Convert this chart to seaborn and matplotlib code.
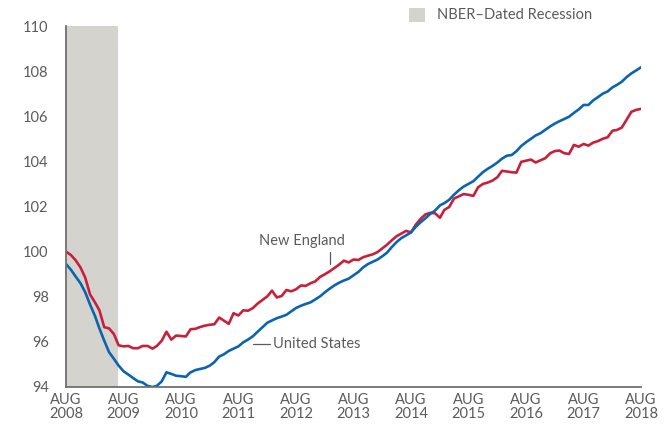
import pandas as pd
import matplotlib.pyplot as plt
import seaborn as sns
from matplotlib.patches import Patch

# Payroll employment index, monthly Aug 2008 - Aug 2018
months = pd.date_range("2008-08-01", "2018-08-01", freq="MS")

new_england = [
    100.0, 99.85, 99.62, 99.3, 98.85, 98.1, 97.75, 97.4, 96.65, 96.6, 96.35, 95.85,
    95.8, 95.82, 95.72, 95.72, 95.82, 95.82, 95.7, 95.82, 96.05, 96.45, 96.1, 96.28,
    96.26, 96.24, 96.56, 96.58, 96.66, 96.72, 96.76, 96.78, 97.08, 96.94, 96.8, 97.27,
    97.17, 97.4, 97.38, 97.5, 97.7, 97.86, 98.02, 98.27, 97.97, 98.03, 98.3, 98.24,
    98.33, 98.5, 98.48, 98.6, 98.68, 98.88, 99.0, 99.12, 99.27, 99.42, 99.6, 99.52,
    99.65, 99.63, 99.75, 99.82, 99.88, 99.98, 100.15, 100.3, 100.5, 100.68, 100.8, 100.92,
    100.85, 101.2, 101.45, 101.65, 101.72, 101.7, 101.5, 101.85, 101.98, 102.35, 102.45, 102.55,
    102.52, 102.47, 102.85, 103.0, 103.06, 103.15, 103.3, 103.58, 103.55, 103.52, 103.5, 103.98,
    104.03, 104.08, 103.95, 104.05, 104.14, 104.36, 104.46, 104.48, 104.36, 104.33, 104.73, 104.65,
    104.77, 104.7, 104.83, 104.9, 105.0, 105.07, 105.36, 105.39, 105.5, 105.84, 106.2, 106.28,
    106.33,
]

united_states = [
    99.45, 99.2, 98.9, 98.6, 98.2, 97.65, 97.15, 96.6, 96.05, 95.55, 95.25, 94.95,
    94.7, 94.55, 94.4, 94.25, 94.2, 94.05, 94.0, 94.05, 94.25, 94.65, 94.58, 94.5,
    94.48, 94.45, 94.65, 94.75, 94.8, 94.85, 94.95, 95.1, 95.35, 95.45, 95.6, 95.7,
    95.8, 95.98, 96.1, 96.25, 96.45, 96.65, 96.85, 96.95, 97.05, 97.12, 97.2, 97.35,
    97.5, 97.6, 97.68, 97.75, 97.88, 98.02, 98.2, 98.35, 98.5, 98.62, 98.72, 98.8,
    98.95, 99.1, 99.3, 99.45, 99.55, 99.65, 99.8, 99.95, 100.2, 100.42, 100.6, 100.72,
    100.85, 101.1, 101.3, 101.48, 101.67, 101.82, 102.05, 102.15, 102.3, 102.52, 102.72, 102.88,
    103.0, 103.12, 103.32, 103.52, 103.67, 103.8, 103.95, 104.12, 104.25, 104.28, 104.45, 104.68,
    104.85, 105.0, 105.15, 105.25, 105.4, 105.55, 105.68, 105.78, 105.88, 105.98, 106.15, 106.3,
    106.5, 106.5, 106.7, 106.85, 107.0, 107.1, 107.28, 107.39, 107.53, 107.73, 107.9, 108.03,
    108.17,
]

tick_years = list(range(2008, 2019))
tick_labels = [f"AUG\n{y}" for y in tick_years]

recession_start = pd.Timestamp("2008-08-01")
recession_end = pd.Timestamp("2009-06-30")

text_color = "#5b5b5b"
axis_color = "#707070"
shade = "#d5d3ce"
colors = {"New England": "#c8203a", "United States": "#0a64b0"}

df = pd.DataFrame({
    "month": list(months) * 2,
    "index": new_england + united_states,
    "region": ["New England"] * len(months) + ["United States"] * len(months),
})

sns.set_style("white")
plt.rcParams["font.family"] = ["Lato", "DejaVu Sans"]

fig = plt.figure(figsize=(6.72, 4.24), dpi=100)
ax = fig.add_axes([66 / 672, 1 - 387 / 424, (641 - 66) / 672, (387 - 26) / 424])

ax.axvspan(recession_start, recession_end, color=shade, lw=0, zorder=0)
sns.lineplot(data=df, x="month", y="index", hue="region", palette=colors,
             linewidth=1.9, legend=False, ax=ax)

ax.set_xlim(months[0], months[-1])
ax.set_ylim(94, 110)
ax.set_yticks(range(94, 111, 2))
ax.set_xticks([pd.Timestamp(f"{y}-08-01") for y in tick_years])
ax.set_xticklabels(tick_labels, linespacing=1.0)
ax.set_xlabel("")
ax.set_ylabel("")

for side in ["top", "right"]:
    ax.spines[side].set_visible(False)
for side in ["left", "bottom"]:
    ax.spines[side].set_color(axis_color)
    ax.spines[side].set_linewidth(1.3)

ax.tick_params(axis="x", direction="in", length=7.5, width=1.3, color=axis_color,
               labelcolor=text_color, labelsize=10.5, pad=4)
ax.tick_params(axis="y", direction="out", length=7.5, width=1.3, color=axis_color,
               labelcolor=text_color, labelsize=10.5, pad=5)

# line labels
ax.text(pd.Timestamp("2012-09-10"), 100.45, "New England", color=text_color,
        fontsize=10.5, ha="center", va="center")
ax.plot([pd.Timestamp("2013-03-05")] * 2, [99.45, 100.0], color=text_color, lw=0.9)
ax.plot([pd.Timestamp("2011-11-01"), pd.Timestamp("2012-02-15")], [95.9, 95.9],
        color=text_color, lw=0.9)
ax.text(pd.Timestamp("2012-03-10"), 95.9, "United States", color=text_color,
        fontsize=10.5, ha="left", va="center")

fig.legend(handles=[Patch(facecolor=shade, edgecolor="none", label="NBER\u2013Dated Recession")],
           loc="center left", bbox_to_anchor=(409 / 672, 1 - 15 / 424), frameon=False,
           fontsize=10.5, labelcolor=text_color, handlelength=1.1, handleheight=1.1,
           handletextpad=0.85, borderpad=0, borderaxespad=0)

fig.savefig("out.png", dpi=100)
